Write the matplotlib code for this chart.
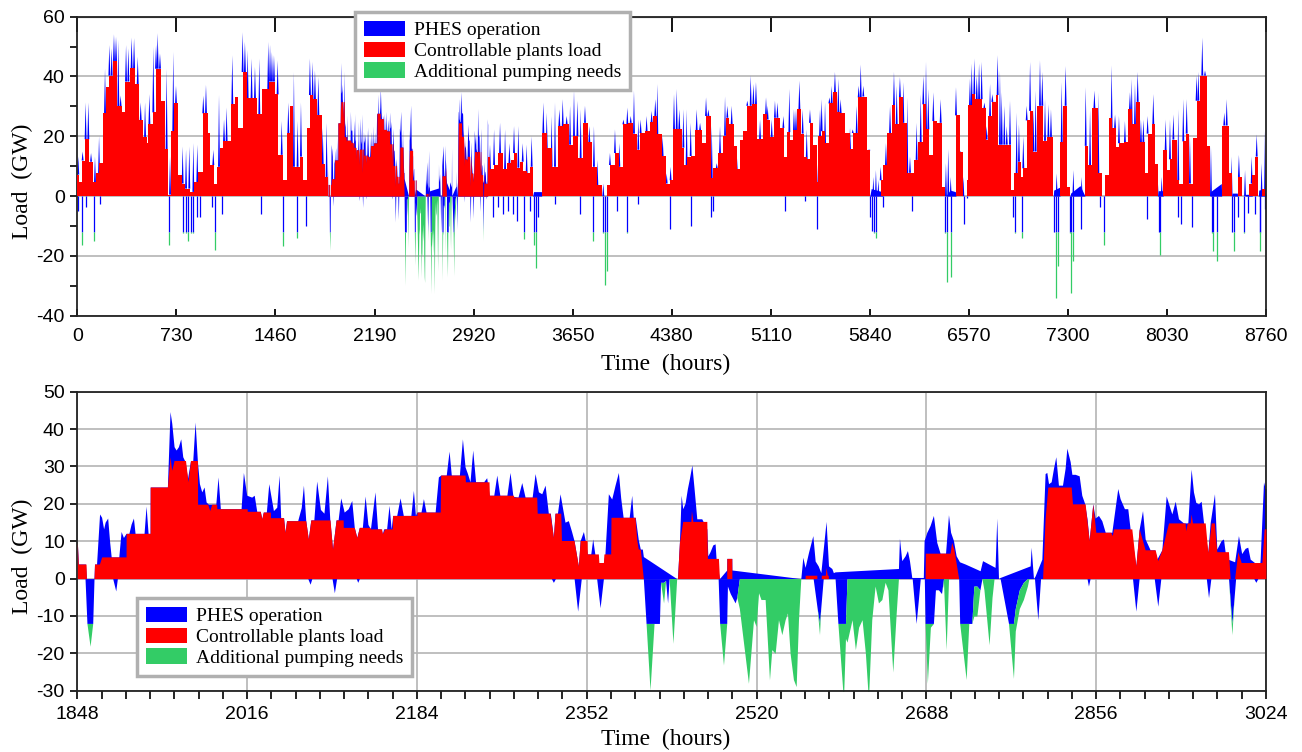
import numpy as np
import matplotlib
matplotlib.use("Agg")
import matplotlib.pyplot as plt
from matplotlib.patches import Patch
from matplotlib.collections import PolyCollection
from matplotlib.ticker import MultipleLocator

plt.rcParams['font.family'] = ['Liberation Sans', 'DejaVu Sans']
plt.rcParams['axes.unicode_minus'] = False

BLUE, RED, GREEN = "#0000ff", "#ff0000", "#33cc66"
GRID = "#b4b4b4"
PUMP_CAP = 12  # GW of PHES pumping before additional pumping is needed

labels = ["PHES operation", "Controllable plants load", "Additional pumping needs"]

# ---- zoomed window, hours 1848-3024: (hour, GW)
win_pos = [
    (1848, 9.7), (1849, 3.9), (1856, 3.9), (1857, 0), (1864.5, 0), (1865, 3.9), (1867, 3.9),
    (1870, 17.3), (1872, 16.4), (1874, 13.3), (1875.5, 15.1), (1878, 16.2), (1880, 9.7),
    (1881.5, 5.8), (1889, 5.8), (1891.3, 12.6), (1893.6, 11), (1896.2, 12.1), (1899, 12.1),
    (1901.2, 14.6), (1903.5, 16.2), (1905.1, 12.1), (1914, 12.1), (1916, 19.4), (1918, 12.1),
    (1920, 12.1), (1920.1, 24.5), (1937.1, 24.5), (1939.7, 44.7), (1941.4, 41.6), (1943.7, 35.3),
    (1945.7, 34.4), (1948, 35.3), (1950.3, 37.4), (1952.3, 32.6), (1954.6, 31.3), (1957, 26.8),
    (1960, 31.6), (1962.2, 31.6), (1964.5, 41.9), (1966.8, 31.3), (1968.8, 25.4), (1971.1, 23.2),
    (1973.4, 24.5), (1975.4, 20.5), (1977.7, 19.9), (1985, 19.9), (1987.2, 27.2), (1989.5, 18.7),
    (2010, 18.7), (2012.3, 28.4), (2015.6, 22.3), (2020.5, 21.8), (2023, 22.3), (2025.5, 18),
    (2029, 18), (2030.5, 16), (2032, 17.8), (2035, 17.8), (2037.4, 25.4), (2042, 18.2),
    (2045.3, 19.1), (2047.6, 27.7), (2049.2, 16.3), (2052, 16.3), (2053.5, 12.4), (2055, 15.5),
    (2066, 15.5), (2069.5, 19), (2071.7, 25), (2074, 15.5), (2076.5, 10.6), (2079, 15.7),
    (2082, 15.7), (2084.8, 26.1), (2088.5, 18.5), (2092, 17.5), (2095.4, 27.5), (2097.8, 15.7),
    (2100.5, 7.9), (2104, 15.7), (2106, 15.7), (2108.6, 21.6), (2112, 17.8), (2116, 18.7),
    (2119.5, 20.9), (2122, 13.7), (2124.5, 11), (2127, 13.7), (2130, 13.7), (2132.7, 22.1),
    (2135.5, 14.5), (2138, 13.3), (2142.5, 23.2), (2145, 13.3), (2148.5, 13.3), (2149.8, 12),
    (2151, 13.3), (2154, 13.3), (2156.4, 19.6), (2158.5, 13.3), (2160, 16.9), (2164, 16.9),
    (2167.3, 21.6), (2170.5, 16.9), (2178, 16.9), (2180.5, 23.6), (2182.5, 16.9), (2184, 17.8),
    (2188, 17.8), (2190.4, 21.4), (2193, 17.8), (2202, 17.8), (2205.2, 27.2), (2207.5, 27.7),
    (2213, 27.7), (2215.8, 34.1), (2218, 27.7), (2226, 27.7), (2229, 37.4), (2231.6, 29.9),
    (2234, 28.1), (2236.5, 25.9), (2239.2, 34.4), (2242, 25.9), (2250, 25.9), (2253, 27),
    (2255.5, 22.3), (2260, 22.3), (2263, 27.7), (2266, 22.3), (2273, 22.3), (2276.1, 28.4),
    (2279, 22), (2284, 21.8), (2287.7, 25.7), (2291, 21.8), (2298, 21.8), (2300.9, 28.1),
    (2304.2, 23.2), (2307.5, 22.7), (2310.8, 25), (2314, 17.5), (2316, 17.5), (2319, 11),
    (2320.6, 17.5), (2323, 17.5), (2325.6, 22.7), (2330.5, 15.1), (2333.8, 15.5), (2337, 12.6),
    (2339.4, 10.2), (2343.7, 3.4), (2345.5, 10.2), (2348.7, 12.6), (2350.5, 10.2), (2352.5, 6.6),
    (2356, 6.6), (2357.9, 10.6), (2360, 6.6), (2363.5, 4.3), (2368.5, 4.3), (2370, 6.6),
    (2373.4, 22.7), (2376.7, 21.3), (2380, 25), (2383.3, 28.4), (2385.6, 21.6), (2388, 16.4),
    (2394, 16.4), (2396.5, 22.3), (2398, 16.4), (2400, 16.4), (2403, 10.4), (2405, 7.9),
    (2407, 7.9), (2408, 5.9), (2441, 0), (2441.8, 0), (2443.7, 9.7), (2445.4, 22.3), (2447, 18.7),
    (2449.3, 20.2), (2451.6, 24.1), (2453.6, 26.8), (2456, 30.4), (2458.2, 24.1), (2460.9, 16),
    (2465.8, 16), (2470.8, 13.3), (2471.8, 6.1), (2474, 7.2), (2476.7, 9), (2479, 9.3),
    (2480, 5.2), (2483.3, 0), (2490.5, 2.3), (2490.6, 5.4), (2495.5, 5.4), (2495.6, 2.3),
    (2563.8, 0), (2565.8, 5.7), (2568, 3), (2571.4, 7), (2575.7, 11.5), (2578, 4.7), (2581, 3.4),
    (2583.6, 1.6), (2588.8, 15.3), (2591.2, 3.4), (2594.5, 2.7), (2596, 1.6), (2597.7, 1.8),
    (2660.4, 2.7), (2661.4, 10.8), (2663.7, 4.8), (2667, 6.1), (2669.3, 7.5), (2671.3, 4.8),
    (2673.6, 0.3), (2685, 0.3), (2685.8, 10.2), (2688.5, 12.4), (2691.7, 14.2), (2695, 16.9),
    (2698.3, 9.7), (2701.6, 6.8), (2707, 6.8), (2709.9, 17.1), (2712, 12.4), (2714.8, 10.2),
    (2717.5, 6.1), (2720.8, 4.5), (2726.4, 3.9), (2741.2, 2.1), (2743.6, 4.8), (2756, 3),
    (2757.7, 16.2), (2759.4, 0), (2761, 0.3), (2790.7, 3.4), (2791.7, 8.4), (2794, 0),
    (2795.6, 0.7), (2802.3, 5.2), (2805.5, 28.1), (2807.2, 28.4), (2808.9, 25.4), (2811.5, 25.9),
    (2813.8, 29.5), (2816.1, 32.6), (2818.7, 25), (2822.7, 25), (2825.3, 29.5), (2827, 34.9),
    (2830.3, 31.3), (2832, 27.9), (2835.2, 27.9), (2839.2, 27.5), (2841.8, 22.3), (2844.5, 20.2),
    (2847, 16), (2849.1, 10.2), (2852.7, 20), (2855, 16.2), (2858.3, 16.9), (2861.6, 15.5),
    (2865, 12.4), (2871.5, 12.4), (2877.4, 24.1), (2879.7, 21.4), (2884, 18.7), (2887.3, 18.7),
    (2889.6, 13.3), (2893, 7.7), (2895.3, 3.4), (2898.6, 13.3), (2901.9, 18.2), (2904.5, 10.6),
    (2909.4, 7.7), (2914, 7.7), (2916, 5.2), (2921, 7.7), (2925.3, 22.1), (2928.2, 19.6),
    (2930.9, 17.3), (2934.2, 20.7), (2937.5, 16), (2942.4, 14.9), (2946.7, 14.9), (2950, 29.3),
    (2952.3, 23.2), (2954.6, 20.4), (2957.3, 20), (2959.9, 20.7), (2962.2, 15.1), (2966.5, 7),
    (2968.8, 14.9), (2973.1, 22.7), (2975.4, 7.9), (2979.7, 10.2), (2982, 10.6), (2983.6, 7.2),
    (2986.3, 5.2), (2993, 4.5), (2996.8, 11.5), (3000, 6.7), (3003.4, 8.1), (3006, 8.4),
    (3008.4, 5.2), (3012.7, 4.3), (3016.6, 0), (3018.3, 5.2), (3021.6, 25.9), (3023.2, 24.1),
    (3024, 24.1),
]

win_red = [
    (1848, 9.7), (1849, 3.9), (1856.6, 3.9), (1857, 0), (1864.5, 0), (1865, 3.9), (1869.8, 3.9),
    (1872.1, 5.8), (1896.2, 5.8), (1896.3, 12.1), (1920, 12.1), (1920.1, 24.5), (1937.1, 24.5),
    (1939.7, 32.6), (1941.4, 29), (1943.7, 31.6), (1955, 31.6), (1957.5, 25.9), (1960, 31.6),
    (1966.8, 31.6), (1967, 19.9), (1977, 19.9), (1979, 18.2), (1981, 19.9), (1985.8, 19.9),
    (1986, 18.7), (2016, 18.7), (2016.1, 18), (2029, 18), (2030.5, 16), (2032, 17.8),
    (2039, 17.8), (2039.1, 16.3), (2052, 16.3), (2053.5, 12.4), (2055, 15.5), (2074, 15.5),
    (2076.5, 10.6), (2079, 15.7), (2098, 15.7), (2100.5, 7.9), (2104, 15.7), (2111, 15.7),
    (2111.1, 13.7), (2122, 13.7), (2124.5, 11), (2127, 13.7), (2137.6, 13.7), (2137.7, 13.3),
    (2149, 13.3), (2149.8, 12), (2152, 13.3), (2159.5, 13.3), (2160, 16.9), (2184, 16.9),
    (2184.1, 17.8), (2207, 17.8), (2207.5, 27.7), (2231.6, 27.7), (2232, 25.9), (2255.3, 25.9),
    (2255.7, 22.3), (2279.4, 22.3), (2280, 21.8), (2302.5, 21.8), (2303, 17.5), (2315.7, 17.5),
    (2319, 11), (2320.6, 17.5), (2326.3, 17.5), (2327, 10.2), (2339.4, 10.2), (2343.7, 3.4),
    (2345.5, 10.2), (2352.3, 10.2), (2352.6, 6.6), (2363.5, 6.6), (2364, 4.3), (2368.5, 4.3),
    (2369, 6.6), (2375.7, 6.6), (2376, 16.4), (2399.8, 16.4), (2401.5, 10.4), (2403, 7.9),
    (2405, 7.9), (2408, 0), (2441.8, 0), (2443.7, 9.7), (2447, 15.3), (2455, 15.3),
    (2455.6, 18.2), (2457, 15.3), (2470.8, 15.3), (2471.4, 5.4), (2482.3, 5.4), (2483.3, 0),
    (2490.5, 0), (2490.6, 5.4), (2495.5, 5.4), (2495.6, 0), (2568, 0), (2568.1, 0.9),
    (2579.6, 0.9), (2579.7, 0), (2584, 0), (2584.1, 0.9), (2588, 0.9), (2588.8, 3), (2590, 0.9),
    (2591, 0.9), (2591.1, 0), (2686.8, 0), (2687, 6.8), (2711.5, 6.8), (2713, 9.7),
    (2715.2, 7.9), (2720, 0), (2803, 0), (2805.5, 16), (2808.2, 24.5), (2831.3, 24.5),
    (2832.6, 20), (2845.1, 20), (2849.1, 10.2), (2852.7, 20), (2855.7, 12.4), (2870.5, 12.4),
    (2872, 11.5), (2873.2, 13.3), (2891.3, 13.3), (2895.3, 3.4), (2898.6, 13.3), (2904.5, 7.7),
    (2914.4, 7.7), (2917, 4.8), (2921, 7.7), (2927.6, 14.9), (2944, 14.9), (2944.6, 12.8),
    (2946.2, 14.9), (2949, 14.9), (2950, 17.3), (2951.3, 14.9), (2963.9, 14.9), (2966.5, 7),
    (2969.8, 14.9), (2973, 14.9), (2975.4, 7.2), (2986.9, 7.2), (2988.6, 0), (2993, 0),
    (2996.2, 7.2), (2999.5, 4.3), (3020, 4.3), (3022.2, 13.3), (3024, 13.3),
]

# (hour, PHES pumping edge, total pumping edge)
win_neg = [
    (1848, 0, 0), (1855.6, 0, 0), (1857.5, -12, -12), (1860.6, -12, -18.1), (1863.2, -12, -12),
    (1864.5, 0, 0), (1883, 0, 0), (1886, -3.3, -3.3), (1887.6, 0, 0), (2076, 0, 0),
    (2078.3, -1.5, -1.5), (2080, 0, 0), (2100, 0, 0), (2102.3, -3.8, -3.8), (2104.5, 0, 0),
    (2124, 0, 0), (2125.4, -1, -1), (2127, 0, 0), (2317, 0, 0), (2319, -1, -1), (2321, 0, 0),
    (2339.5, 0, 0), (2343, -8.7, -8.7), (2346.6, 0, 0), (2361.8, 0, 0), (2365.2, -7.8, -7.8),
    (2368.5, 0, 0), (2408, 0, 0), (2410.7, -12, -12), (2414.6, -12, -29.8), (2418.6, -12, -12),
    (2423.9, -12, -12), (2425, -1, -1), (2428, -1, -6.5), (2430, -0.5, -0.5), (2432, -6.5, -6.5),
    (2433.5, 0, 0), (2437.3, 0, -17.3), (2441, 0, 0), (2482, 0, 0), (2483.5, -12, -12),
    (2487.3, -12, -23.1), (2490.5, -12, -12), (2491.2, -2, -2), (2494, -4, -4),
    (2498.8, -6.5, -6.5), (2500.5, -5, -5), (2503, 0, -8), (2512, 0, -28), (2517, 0, -11),
    (2519.6, 0, -12.8), (2522, 0, -3.8), (2524.4, 0, -5.6), (2528.5, 0, -5.6),
    (2532.8, 0, -27.1), (2535.1, 0, -19), (2538.4, 0, -20), (2541.7, 0, -11), (2545, 0, -15),
    (2548.3, 0, -11), (2550.6, 0, -9.2), (2553.2, 0, -20), (2556.5, 0, -27),
    (2559.2, 0, -28.9), (2561.5, 0, -11), (2563.8, 0, 0), (2576, 0, 0), (2580, -8, -8),
    (2582.3, -12, -15), (2583.5, -8, -8), (2586, 0, 0), (2597.7, 0, 0), (2600.5, -12, -12),
    (2606, -12, -32.5), (2608, -12, -16), (2609.5, 0, -17), (2614.5, 0, -11), (2617.8, 0, -19),
    (2621, 0, -13), (2624.4, 0, -11), (2627.7, 0, -20), (2630.7, 0, -32.5), (2634, 0, -11),
    (2637.3, 0, -2), (2640.6, 0, -6.5), (2644, 0, -5.6), (2647.2, 0, -1), (2650, 0, -3),
    (2654.8, 0, -25), (2658, 0, -10), (2660.4, 0, 0), (2674, 0, 0), (2677.9, -12, -12),
    (2680, -6, -6), (2682, 0, 0), (2686, 0, 0), (2686.8, -12, -12), (2689, -12, -28),
    (2692, -12, -13), (2695, -12, -12), (2697, -3, -3), (2700, -3, -3), (2703, -4, -4),
    (2705, 0, -1), (2707.6, 0, -19), (2710, 0, 0), (2720, 0, 0), (2721, -12, -12),
    (2727.4, -12, -27), (2730, -12, -12), (2733, -12, -12), (2735, -2, -10), (2738, -2, -10),
    (2741, -3, -3), (2743, 0, 0), (2745, 0, -3), (2750.1, 0, -17.7), (2753, 0, -5), (2755, 0, 0),
    (2761, 0, 0), (2769.3, -12, -12), (2774.2, -12, -26.7), (2776, -8, -14), (2780, -3, -8),
    (2784, -1, -5.6), (2788, 0, -2), (2789.5, 0, 0), (2795, 0, 0), (2798.3, -11, -11),
    (2801, 0, 0), (2847, 0, 0), (2848.4, -2, -2), (2850, 0, 0), (2892, 0, 0),
    (2895.3, -8.7, -8.7), (2898.5, 0, 0), (2913.5, 0, 0), (2917, -7.4, -7.4), (2920, 0, 0),
    (2965, 0, 0), (2967.2, -5.1, -5.1), (2969.5, 0, 0), (2987, 0, 0), (2990.3, -12, -15),
    (2992.5, -5, -5), (2994, 0, 0), (3012, 0, 0), (3014, -1, -1), (3016, 0, 0), (3024, 0, 0),
]

# ---- rest of the year (outside the window), read coarsely
year_red_early = [
    (0, 7.2), (15, 4.7), (32, 11.9), (56, 19), (88, 11.5), (118, 4.7), (138, 7.6), (162, 11),
    (187, 27.7), (211, 36.6), (236, 40.3), (260, 45.2), (290, 30), (327, 28), (351, 38.3),
    (388, 42.8), (425, 37.5), (457, 25.3), (481, 19.8), (511, 17.7), (523, 24), (560, 28),
    (580, 42.6), (614, 31.9), (646, 15.7), (670, 0.5), (690, 21.7), (712, 31), (744, 7),
    (769, 4.2), (793, 2.5), (830, 1.4), (860, 4.7), (892, 8.1), (928, 27.7), (965, 21.1),
    (977, 10.4), (1007, 4.2), (1027, 9.8), (1051, 16), (1076, 18.3), (1132, 30.7), (1162, 33),
    (1186, 22.8), (1218, 41.5), (1248, 32.7), (1321, 27.3), (1358, 35.8), (1415, 38.3),
    (1456, 34), (1481, 13.8), (1518, 5.3), (1547, 21.1), (1567, 30), (1591, 9.8), (1641, 13.2),
    (1665, 5.3), (1695, 22.8), (1714, 33.8), (1734, 32.4), (1768, 27), (1800, 10.7),
    (1825, 6.4),
]
year_red_late = [
    (3024, 13.2), (3041, 8.9), (3071, 10.4), (3103, 14.4), (3139, 8.9), (3169, 11), (3193, 12.1),
    (3218, 14.4), (3238, 9.5), (3262, 11.5), (3287, 8.5), (3311, 7.6), (3336, 9.8), (3360, 0),
    (3422, 21.1), (3459, 16), (3495, 9.8), (3545, 23.4), (3581, 24), (3626, 17.2), (3655, 20),
    (3692, 12.7), (3729, 24.5), (3766, 18), (3790, 9.8), (3827, 3.6), (3864, 0), (3906, 3.6),
    (3925, 10.4), (3962, 14.4), (3994, 9.8), (4024, 24), (4060, 24.5), (4097, 20.9),
    (4122, 15.5), (4146, 21.1), (4183, 21.7), (4220, 24.7), (4245, 26.8), (4274, 20.6),
    (4306, 13.4), (4338, 4.2), (4367, 5.3), (4387, 22.3), (4454, 16.2), (4471, 10.4),
    (4495, 13.2), (4520, 13.4), (4552, 22), (4601, 17.7), (4633, 26.8), (4667, 5.9), (4682, 9.3),
    (4724, 14.4), (4761, 20.2), (4780, 26.2), (4805, 24), (4839, 16.6), (4859, 8.9),
    (4883, 18.9), (4903, 21.7), (4933, 30.2), (4969, 30.7), (5011, 19.1), (5055, 27.3),
    (5080, 25.6), (5105, 19.8), (5134, 26.2), (5178, 22.8), (5208, 13.2), (5227, 21.4),
    (5252, 18.9), (5276, 22), (5301, 29), (5330, 20.9), (5355, 13.2), (5375, 12.3), (5399, 24.5),
    (5424, 17.2), (5448, 4.7), (5461, 20), (5485, 21.7), (5510, 17.7), (5542, 31), (5566, 34.7),
    (5601, 28.1), (5620, 27.7), (5657, 21.1), (5694, 15.7), (5714, 21.1), (5755, 33),
    (5792, 33.3), (5822, 15.5), (5841, 0), (5920, 5.3), (5940, 10.4), (5969, 21.1), (6001, 30.4),
    (6026, 24), (6057, 33), (6082, 24.5), (6111, 7.6), (6136, 7.8), (6165, 12.1), (6197, 18),
    (6229, 30.7), (6254, 22.3), (6278, 13.8), (6308, 25.1), (6332, 24.5), (6369, 3), (6394, 0),
    (6475, 27), (6504, 14.9), (6529, 0), (6553, 5.3), (6566, 30.4), (6596, 34.1), (6615, 32.4),
    (6669, 29.3), (6694, 18.9), (6714, 26.8), (6738, 31.5), (6768, 33.8), (6787, 17.2),
    (6880, 1.9), (6905, 7.6), (6935, 11.5), (6954, 6.4), (6971, 9.3), (6996, 25.3), (7021, 28.5),
    (7045, 14.9), (7070, 30.2), (7119, 18.5), (7143, 19.8), (7192, 0), (7242, 18), (7266, 30.2),
    (7291, 3), (7315, 0), (7426, 16.8), (7450, 10.4), (7475, 29.3), (7524, 7.6), (7554, 0),
    (7573, 7), (7603, 26.2), (7622, 22.8), (7652, 16.4), (7676, 17.7), (7716, 18), (7745, 29),
    (7770, 24), (7799, 31.5), (7831, 18), (7868, 7.6), (7887, 20.9), (7917, 24), (7942, 10.7),
    (7961, 0), (8003, 15.3), (8027, 8.7), (8052, 12.3), (8069, 18.9), (8101, 5.3), (8118, 4.2),
    (8150, 18.3), (8167, 20.9), (8192, 4.2), (8224, 19.4), (8248, 31.9), (8273, 40.3),
    (8322, 16.6), (8347, 0), (8433, 23.6), (8487, 7.6), (8506, 0), (8551, 6.4), (8580, 0),
    (8634, 4.2), (8659, 7), (8678, 13.2), (8703, 0), (8732, 2.5), (8752, 0),
]

year_peaks = [
    (7, 13.2), (39, 14.9), (61, 31.3), (81, 31.3), (101, 14.4), (130, 13.2), (160, 20),
    (204, 42.6), (236, 50.5), (253, 49.4), (270, 54.1), (285, 53.3), (302, 52.2), (319, 33.6),
    (359, 50.5), (376, 49.4), (400, 53), (418, 52.8), (445, 46.6), (467, 31.3), (499, 31.3),
    (531, 34.1), (560, 49.9), (580, 50.5), (592, 54.5), (609, 47.7), (658, 42.6), (683, 13.2),
    (707, 48.2), (727, 36.9), (776, 16.6), (801, 15.5), (825, 16.6), (855, 17.7), (884, 17.2),
    (928, 33.6), (948, 37.2), (1002, 15.5), (1044, 33.8), (1081, 25.6), (1100, 29.6),
    (1142, 47.1), (1174, 30.7), (1218, 54.8), (1235, 51.6), (1255, 48.8), (1284, 46),
    (1309, 43.2), (1341, 46), (1407, 51.6), (1420, 50.5), (1434, 48.2), (1449, 47.1),
    (1476, 45.4), (1506, 25.1), (1555, 31.3), (1596, 41.5), (1623, 25.1), (1648, 31.3),
    (1714, 46), (1734, 44.9), (1751, 42), (1776, 39.8), (1808, 22.8), (1837, 24.5),
    (3041, 17.2), (3071, 22.3), (3115, 24.5), (3152, 22.3), (3184, 17.7), (3218, 23.4),
    (3250, 23.4), (3282, 17.7), (3311, 17.2), (3348, 20), (3434, 31.3), (3459, 27.9),
    (3495, 26.8), (3520, 31.3), (3552, 29), (3577, 32.4), (3606, 26.8), (3631, 30.2),
    (3660, 35.3), (3685, 31.9), (3709, 29), (3741, 30.2), (3773, 23.4), (3807, 23.4),
    (3832, 12.1), (3876, 4.2), (3925, 14.4), (3962, 22.3), (3994, 17.7), (4024, 25.6),
    (4053, 29.6), (4078, 26.8), (4102, 35.3), (4134, 25.6), (4151, 25.6), (4195, 26.8),
    (4232, 28.5), (4259, 32.4), (4274, 37.5), (4313, 20), (4343, 7.6), (4372, 9.8),
    (4397, 34.1), (4417, 35.8), (4436, 29), (4466, 29), (4490, 29), (4520, 24.5), (4564, 29),
    (4589, 24.5), (4633, 33), (4650, 29), (4675, 23.4), (4712, 11), (4736, 23.4), (4773, 33.3),
    (4790, 30.2), (4822, 30.2), (4859, 14.4), (4896, 18.9), (4937, 31.9), (4962, 40.3),
    (4982, 37.5), (5001, 38.1), (5031, 25.6), (5075, 33), (5087, 30.2), (5117, 25.6),
    (5141, 31.9), (5159, 31.3), (5203, 26.8), (5247, 35.8), (5281, 29), (5296, 29),
    (5321, 38.6), (5345, 29), (5375, 22.3), (5399, 29), (5448, 14.4), (5473, 29), (5485, 32.4),
    (5510, 31.3), (5542, 33), (5559, 36.9), (5583, 41.5), (5608, 39.2), (5625, 32.4),
    (5664, 20), (5694, 22.8), (5714, 22.3), (5743, 30.2), (5758, 36.9), (5773, 44),
    (5792, 36.9), (5836, 13.2), (5866, 6.4), (5885, 8.7), (5903, 5.3), (5920, 9.8),
    (5959, 17.7), (5989, 30.2), (6018, 41.5), (6038, 36.9), (6062, 39.8), (6087, 38.1),
    (6116, 33), (6136, 13.2), (6185, 24.5), (6215, 34.1), (6234, 40.3), (6254, 44.9),
    (6271, 35.8), (6308, 34.7), (6332, 24.5), (6362, 32.4), (6401, 11), (6418, 15.7),
    (6436, 6.4), (6475, 36.4), (6504, 13.2), (6529, 6.4), (6578, 39.2), (6591, 44.3),
    (6610, 46), (6628, 40.3), (6645, 44.3), (6664, 44.9), (6684, 31.3), (6701, 23.4),
    (6726, 37.5), (6743, 34.1), (6763, 29), (6782, 47.1), (6799, 42), (6812, 34.7),
    (6831, 30.2), (6849, 23.4), (6873, 31.9), (6922, 27.9), (6939, 24), (6971, 20),
    (6996, 30.2), (7021, 44.9), (7045, 29), (7062, 35.3), (7094, 45.4), (7111, 41.5),
    (7131, 32.4), (7156, 30.7), (7175, 29), (7217, 7.6), (7254, 38.1), (7283, 43.5),
    (7340, 8.7), (7401, 6.4), (7431, 36.4), (7463, 29), (7495, 35.3), (7524, 34.7),
    (7622, 43.7), (7647, 27.3), (7676, 26.8), (7720, 25.1), (7757, 34.7), (7770, 39.2),
    (7794, 37.5), (7814, 41.5), (7838, 25.6), (7856, 25.6), (7887, 26.8), (7929, 34.1),
    (7961, 6.4), (7991, 6.4), (8020, 25.6), (8052, 25.6), (8077, 27.3), (8113, 29),
    (8150, 32.4), (8175, 32.4), (8199, 20), (8248, 40.3), (8261, 41.5), (8290, 53),
    (8310, 42), (8354, 16.6), (8452, 27.9), (8470, 32.4), (8506, 13.2), (8560, 13.8),
    (8605, 8.7), (8654, 13.2), (8691, 20.6), (8727, 11), (8752, 21.7),
]

year_dips = [
    (7, -4.9), (32, -16.2), (64, -3.7), (123, -15), (167, -2.6), (678, -16.2), (781, -12.2),
    (801, -12.2), (818, -15), (835, -12.2), (850, -12.2), (879, -7.1), (904, -7.1), (990, -3.7),
    (1014, -17.9), (1063, -6), (1351, -6), (1518, -16.7), (1616, -13.9), (1685, -9.9),
    (3066, -7.1), (3103, -3.7), (3139, -6), (3176, -4.9), (3208, -6), (3238, -8.2),
    (3292, -14.5), (3336, -4.9), (3365, -16.2), (3380, -24), (3397, -7), (3520, -2.6),
    (3704, -6), (3798, -15), (3876, -12.2), (3888, -29.7), (3906, -25.2), (3974, -4.9),
    (4048, -12.2), (4134, -2.6), (4367, -11.1), (4520, -9.9), (4667, -7.1), (4687, -4.9),
    (5215, -4.9), (5362, -1.5), (5453, -11.1), (5841, -7.1), (5854, -11.6), (5871, -12.2),
    (5885, -13.9), (5935, -3.7), (6148, -4.9), (6394, -12.2), (6406, -28.6), (6438, -26.9),
    (6534, -9.4), (6554, -0.5), (6898, -7.1), (6910, -12.2), (6964, -13.9), (7200, -12),
    (7210, -34.2), (7229, -23.5), (7315, -12.2), (7323, -32.5), (7340, -21.8), (7396, -11.1),
    (7536, -3.7), (7568, -16.2), (7880, -7.7), (7971, -12), (7978, -19.6), (8113, -7.1),
    (8133, -9.4), (8212, -10.5), (8359, -12.2), (8371, -18.4), (8396, -21.8), (8506, -12),
    (8526, -18.2), (8551, -7.1), (8600, -12.2), (8629, -5.5), (8678, -6), (8715, -12.2),
    (8718, -18.2), (8755, -4.2),
]

# low PHES generation while the controllable plants are off
year_floor = [
    (3355, 0), (3362, 1.5), (3420, 1.5), (3422, 0), (5840, 0), (5850, 2.5), (5930, 1.5),
    (5935, 0), (6400, 0), (6431, 2), (6470, 1.5), (6475, 0), (7192, 0), (7195, 2), (7240, 3),
    (7242, 0), (7315, 0), (7320, 1), (7389, 3.5), (7426, 0), (7961, 0), (7965, 1.8), (8000, 1.8),
    (8003, 0), (8347, 0), (8350, 1.5), (8430, 4.2), (8433, 0), (8506, 0), (8510, 1), (8548, 1),
    (8551, 0), (8605, 0), (8610, 0.6), (8655, 0.6), (8659, 0), (8703, 0), (8706, 2), (8750, 2.5),
    (8760, 0),
]


def draw_window(ax):
    h, v = zip(*win_pos)
    ax.fill_between(h, 0, v, color=BLUE, lw=0, zorder=2)
    h, b, t = zip(*win_neg)
    ax.fill_between(h, 0, b, color=BLUE, lw=0, zorder=2)
    ax.fill_between(h, b, t, color=GREEN, lw=0, zorder=2)
    h, v = zip(*win_red)
    ax.fill_between(h, 0, v, color=RED, lw=0, zorder=3)


def draw_red_steps(ax, pts, end):
    h = [p[0] for p in pts] + [end]
    v = [p[1] for p in pts] + [pts[-1][1]]
    ax.fill_between(h, 0, v, step='post', color=RED, lw=0, zorder=3)


def red_level(x):
    steps = year_red_early + year_red_late
    h = np.array([p[0] for p in steps])
    v = np.array([p[1] for p in steps])
    return v[np.searchsorted(h, x, side='right') - 1]


def style_axes(ax):
    for s in ax.spines.values():
        s.set_linewidth(1.3)
        s.set_color("#222222")
    for lab in ax.get_xticklabels() + ax.get_yticklabels():
        lab.set_fontsize(14)
    ax.set_xlabel("Time  (hours)", family=['Liberation Serif'], fontsize=17)
    ax.set_ylabel("Load  (GW)", family=['Liberation Serif'], fontsize=17)
    ax.yaxis.set_label_coords(-0.037, 0.45)
    ax.xaxis.set_label_coords(0.495, -0.128)


def add_legend(fig, x, y):
    handles = [Patch(facecolor=c, edgecolor='none') for c in (BLUE, RED, GREEN)]
    leg = fig.legend(handles, labels, loc='upper left', bbox_to_anchor=(x, y),
                     bbox_transform=fig.transFigure, borderaxespad=0,
                     prop={'family': 'Liberation Serif', 'size': 14},
                     frameon=True, fancybox=False, framealpha=1,
                     edgecolor='#b0b0b0', handlelength=2.1, handleheight=0.85,
                     handletextpad=0.5, labelspacing=0.12, borderpad=0.45)
    leg.get_frame().set_linewidth(2.5)
    return leg


fig = plt.figure(figsize=(13.02, 7.52), dpi=100)
ax1 = fig.add_axes([0.0594, 0.5802, 0.9130, 0.3976])
ax2 = fig.add_axes([0.0594, 0.0815, 0.9129, 0.3976])

# ---- top: whole year
h, v = zip(*year_floor)
ax1.fill_between(h, 0, v, color=BLUE, lw=0, zorder=2)
ph, pv = zip(*year_peaks)
base = red_level(np.array(ph))
spikes = [[(x - 7, b), (x, p), (x + 7, b)] for x, p, b in zip(ph, pv, base)]
ax1.add_collection(PolyCollection(spikes, facecolors=BLUE, edgecolors='none', zorder=2))
h, v = zip(*year_dips)
v = np.array(v)
ax1.vlines(h, 0, np.maximum(v, -PUMP_CAP), color=BLUE, lw=0.9, zorder=2)
deep = v < -PUMP_CAP
ax1.vlines(np.array(h)[deep], -PUMP_CAP, v[deep], color=GREEN, lw=0.9, zorder=2)
draw_red_steps(ax1, year_red_early, 1848)
draw_red_steps(ax1, year_red_late, 8760)
draw_window(ax1)

ax1.set_xlim(0, 8760)
ax1.set_ylim(-40, 60)
ax1.set_xticks(np.arange(0, 8761, 730))
ax1.set_yticks(np.arange(-40, 61, 20))
ax1.yaxis.set_minor_locator(MultipleLocator(10))
ax1.grid(axis='y', which='major', color=GRID, lw=1.2, zorder=0)
ax1.set_axisbelow(True)
ax1.tick_params(axis='x', direction='in', length=5, width=1.3, pad=9)
ax1.tick_params(axis='y', which='both', direction='out', length=5, width=1.2, pad=4)
top = ax1.secondary_xaxis('top')
top.set_xticks(np.arange(0, 8761, 730))
top.tick_params(direction='in', length=11, width=1.3, labeltop=False)
style_axes(ax1)

# ---- bottom: zoomed window
draw_window(ax2)
ax2.set_xlim(1848, 3024)
ax2.set_ylim(-30, 50)
ax2.set_xticks(np.arange(1848, 3025, 168))
ax2.xaxis.set_minor_locator(MultipleLocator(24))
ax2.set_yticks(np.arange(-30, 51, 10))
ax2.grid(which='major', color=GRID, lw=1.2, zorder=0)
ax2.set_axisbelow(True)
ax2.tick_params(axis='x', which='both', direction='out', length=6, width=1.2, pad=5)
ax2.tick_params(axis='y', direction='out', length=5, width=1.2, pad=4)
style_axes(ax2)

add_legend(fig, 0.2727, 0.984)
add_legend(fig, 0.1052, 0.2048)

fig.savefig("out.png", dpi=100)
